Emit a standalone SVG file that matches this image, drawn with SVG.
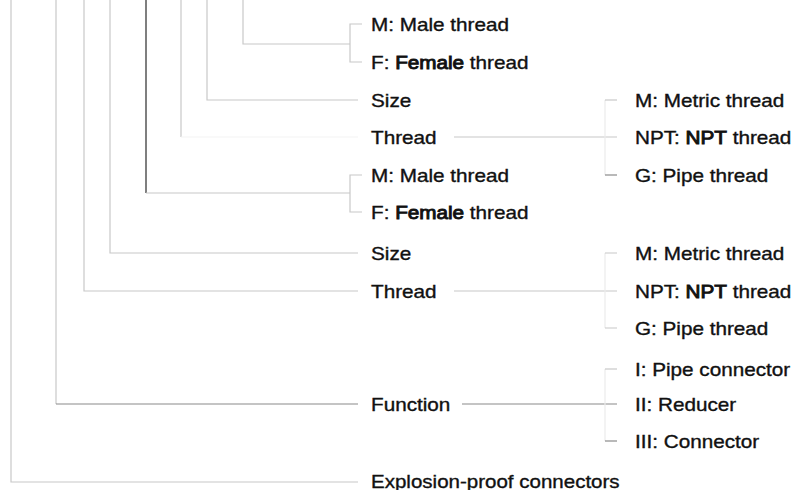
<svg xmlns="http://www.w3.org/2000/svg" width="795" height="490" viewBox="0 0 795 490">
<style>
  .t { font-family: "Liberation Sans", Arial, sans-serif; font-size: 18px; fill: #111; stroke: #111; stroke-width: 0.35; }
  .b { stroke-width: 0.9; }
  .c { fill: none; stroke: #c8c8c8; stroke-width: 1.2; }
  .f { fill: none; stroke: #ebebeb; stroke-width: 1.2; }
  .x { fill: none; stroke: #f4f4f4; stroke-width: 1.2; }
  .m { fill: none; stroke: #8a8a8a; stroke-width: 1.2; }
  .d { fill: none; stroke: #555; stroke-width: 1.5; }
</style>
<rect width="795" height="490" fill="#fff"/>
<g id="connectors">
  <path class="c" d="M243 0V44H350M362 24H350V62H362"/>
  <path class="c" d="M207 0V100H358"/>
  <path class="c" d="M181 0V137"/>
  <path class="x" d="M181 137H358"/>
  <path class="d" d="M146 0V193"/>
  <path class="c" d="M146 193H350M362 175H350V212H362"/>
  <path class="c" d="M110 0V253H358"/>
  <path class="c" d="M84 0V291H358"/>
  <path class="c" d="M56 0V404"/>
  <path class="m" d="M56 404H358"/>
  <path class="c" d="M11 0V482H358"/>
  <path class="c" d="M454 137H617"/>
  <path class="f" d="M605 100V175"/>
  <path class="c" d="M605 100H617"/>
  <path class="m" d="M605 175H617"/>
  <path class="c" d="M454 291H617"/>
  <path class="f" d="M605 253V328"/>
  <path class="c" d="M605 253H617M605 328H617"/>
  <path class="m" d="M462 404H617"/>
  <path class="f" d="M605 369V441"/>
  <path class="c" d="M605 369H617"/>
  <path class="m" d="M605 441H617"/>
</g>
<g id="male1"><text class="t" transform="translate(371,30.5) scale(1.15,1)">M: Male thread</text></g>
<g id="female1"><text class="t" transform="translate(371,68.5) scale(1.15,1)">F: <tspan class="b">Female</tspan> thread</text></g>
<g id="size1"><text class="t" transform="translate(371,106.5) scale(1.15,1)">Size</text></g>
<g id="thread1"><text class="t" transform="translate(371,143.5) scale(1.15,1)">Thread</text></g>
<g id="male2"><text class="t" transform="translate(371,181.5) scale(1.15,1)">M: Male thread</text></g>
<g id="female2"><text class="t" transform="translate(371,218.5) scale(1.15,1)">F: <tspan class="b">Female</tspan> thread</text></g>
<g id="size2"><text class="t" transform="translate(371,259.5) scale(1.15,1)">Size</text></g>
<g id="thread2"><text class="t" transform="translate(371,297.5) scale(1.15,1)">Thread</text></g>
<g id="function"><text class="t" transform="translate(371,410.5) scale(1.15,1)">Function</text></g>
<g id="explosion"><text class="t" transform="translate(371,487.5) scale(1.14,1)">Explosion-proof connectors</text></g>
<g id="metric1"><text class="t" transform="translate(635,106.5) scale(1.15,1)">M: Metric thread</text></g>
<g id="npt1"><text class="t" transform="translate(635,143.5) scale(1.15,1)">NPT: <tspan class="b">NPT</tspan> thread</text></g>
<g id="pipe1"><text class="t" transform="translate(635,181.5) scale(1.15,1)">G: Pipe thread</text></g>
<g id="metric2"><text class="t" transform="translate(635,259.5) scale(1.15,1)">M: Metric thread</text></g>
<g id="npt2"><text class="t" transform="translate(635,297.5) scale(1.15,1)">NPT: <tspan class="b">NPT</tspan> thread</text></g>
<g id="pipe2"><text class="t" transform="translate(635,334.5) scale(1.15,1)">G: Pipe thread</text></g>
<g id="pipeconn"><text class="t" transform="translate(635,375.5) scale(1.15,1)">I: Pipe connector</text></g>
<g id="reducer"><text class="t" transform="translate(635,410.5) scale(1.15,1)">II: Reducer</text></g>
<g id="connector"><text class="t" transform="translate(635,447.5) scale(1.15,1)">III: Connector</text></g>
</svg>
